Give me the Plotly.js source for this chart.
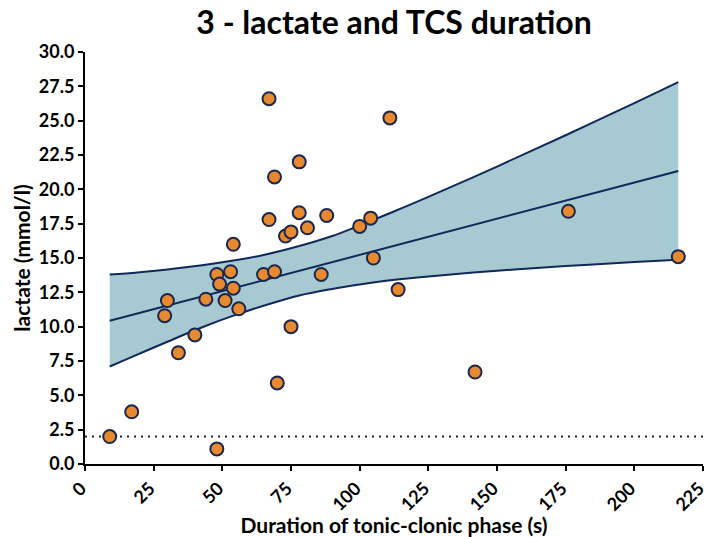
<!DOCTYPE html>
<html>
<head>
<meta charset="utf-8">
<script src="https://cdn.plot.ly/plotly-3.0.1.min.js"></script>
<style>html,body{margin:0;padding:0;background:#fff;}#chart{width:709px;height:537px;}</style>
</head>
<body>
<div id="chart"></div>
<script>
// Observed points: duration of tonic-clonic phase (s) and lactate (mmol/l)
const duration = [9, 17, 29, 30, 34, 40, 44, 48, 48, 49, 51, 53, 54, 54, 56, 65, 67, 67, 69, 69, 70, 73, 75, 75, 78, 78, 81, 86, 88, 100, 104, 105, 111, 114, 142, 176, 216];
const lactate  = [2.0, 3.8, 10.8, 11.9, 8.1, 9.4, 12.0, 13.8, 1.1, 13.1, 11.9, 14.0, 12.8, 16.0, 11.3, 13.8, 26.6, 17.8, 20.9, 14.0, 5.9, 16.6, 16.9, 10.0, 22.0, 18.3, 17.2, 13.8, 18.1, 17.3, 17.9, 15.0, 25.2, 12.7, 6.7, 18.4, 15.1];

// Regression line and confidence band
const fitX = [9, 216];
const fitY = [10.43, 21.34];
const bandX     = [9, 15, 30, 42, 54, 65, 78, 90, 100, 112, 125, 150, 175, 200, 216];
const bandUpper = [13.8, 13.88, 14.17, 14.45, 14.81, 15.22, 15.87, 16.6, 17.37, 18.35, 19.45, 21.66, 23.94, 26.28, 27.8];
const bandLower = [7.1, 7.62, 8.9, 9.9, 10.8, 11.52, 12.27, 12.75, 13.07, 13.4, 13.66, 14.07, 14.41, 14.7, 14.87];

// Reference level (dotted line)
const refX = [0, 225];
const refLevel = 2.0;

// Axis ticks
const xTicks = [0, 25, 50, 75, 100, 125, 150, 175, 200, 225];
const yTicks = [0, 2.5, 5, 7.5, 10, 12.5, 15, 17.5, 20, 22.5, 25, 27.5, 30];

const navy = '#10295a';
const font = 'Lato, "Open Sans", sans-serif';

const traces = [
  {x: bandX, y: bandLower, mode: 'lines', line: {color: navy, width: 2, shape: 'spline', smoothing: 1}, hoverinfo: 'skip'},
  {x: bandX, y: bandUpper, mode: 'lines', fill: 'tonexty', fillcolor: '#a7c9d1', line: {color: navy, width: 2, shape: 'spline', smoothing: 1}, hoverinfo: 'skip'},
  {x: fitX, y: fitY, mode: 'lines', line: {color: navy, width: 2}},
  {x: refX, y: refX.map(() => refLevel), mode: 'lines', line: {color: '#222', width: 2, dash: '2px,5px'}},
  {x: duration, y: lactate, mode: 'markers', marker: {size: 13, color: '#e8892f', line: {color: '#1a2850', width: 2}}}
];

const layout = {
  width: 709, height: 537,
  margin: {l: 85, r: 6, t: 52, b: 73},
  paper_bgcolor: '#fff', plot_bgcolor: '#fff',
  showlegend: false,
  font: {family: font, color: '#000'},
  title: {text: '<b>3 - lactate and TCS duration</b>', font: {family: font, size: 32, color: '#000'}, x: 0.5, xref: 'paper', xanchor: 'center', y: 0.958, yanchor: 'middle'},
  xaxis: {
    range: [0, 225], tickvals: xTicks, ticktext: xTicks.map(String), tickangle: -45,
    ticklabeloverflow: 'allow', ticklabelshift: -4,
    showline: true, linecolor: '#000', linewidth: 2, ticks: 'outside', ticklen: 5, tickwidth: 2, tickcolor: '#000',
    showgrid: false, zeroline: false,
    tickfont: {family: font, size: 18, color: '#000', weight: 'bold'},
    title: {text: '<b>Duration of tonic-clonic phase (s)</b>', font: {family: font, size: 21, color: '#000'}, standoff: 4}
  },
  yaxis: {
    range: [0, 30], tickvals: yTicks, ticktext: yTicks.map(v => v.toFixed(1)),
    showline: true, linecolor: '#000', linewidth: 2, ticks: 'outside', ticklen: 5, tickwidth: 2, tickcolor: '#000',
    showgrid: false, zeroline: false,
    tickfont: {family: font, size: 18, color: '#000', weight: 'bold'},
    title: {text: '<b>lactate (mmol/l)</b>', font: {family: font, size: 21, color: '#000'}, standoff: 2}
  }
};

Plotly.newPlot('chart', traces, layout, {displayModeBar: false, staticPlot: true});
</script>
</body>
</html>
